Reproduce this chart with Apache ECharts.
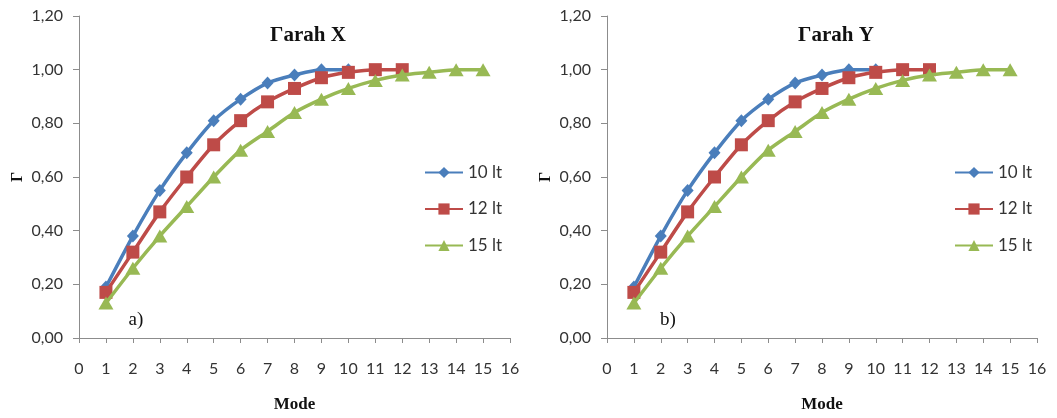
<!DOCTYPE html>
<html>
<head>
<meta charset="utf-8">
<script src="https://cdn.jsdelivr.net/npm/echarts@6/dist/echarts.min.js"></script>
<style>
  html, body { margin: 0; padding: 0; background: #ffffff; }
  #chart { width: 1057px; height: 418px; }
</style>
</head>
<body>
<div id="chart"></div>
<script>
// Mode numbers (x values)
const modes = [1, 2, 3, 4, 5, 6, 7, 8, 9, 10, 11, 12, 13, 14, 15];
const seriesNames = ['10 lt', '12 lt', '15 lt'];
const panelTitles = ['Γarah X', 'Γarah Y'];
const panelTags = ['a)', 'b)'];

// Γ values, direction X
const gammaX10 = [0.19, 0.38, 0.55, 0.69, 0.81, 0.89, 0.95, 0.98, 1.00, 1.00];
const gammaX12 = [0.17, 0.32, 0.47, 0.60, 0.72, 0.81, 0.88, 0.93, 0.97, 0.99, 1.00, 1.00];
const gammaX15 = [0.13, 0.26, 0.38, 0.49, 0.60, 0.70, 0.77, 0.84, 0.89, 0.93, 0.96, 0.98, 0.99, 1.00, 1.00];

// Γ values, direction Y
const gammaY10 = [0.19, 0.38, 0.55, 0.69, 0.81, 0.89, 0.95, 0.98, 1.00, 1.00];
const gammaY12 = [0.17, 0.32, 0.47, 0.60, 0.72, 0.81, 0.88, 0.93, 0.97, 0.99, 1.00, 1.00];
const gammaY15 = [0.13, 0.26, 0.38, 0.49, 0.60, 0.70, 0.77, 0.84, 0.89, 0.93, 0.96, 0.98, 0.99, 1.00, 1.00];

const colors = ['#4A7EBB', '#BE4B48', '#98B954'];
const symbols = ['diamond', 'rect', 'triangle'];
const symbolSizes = [[12, 13], 13, [15, 13]];

const axisGray = '#8c8c8c';
const labelFont = 'Lato, "Open Sans", sans-serif';
const serifFont = '"Liberation Serif", "DejaVu Serif", serif';

const pairs = (vals) => vals.map((v, i) => [modes[i], v]);

const panels = [
  { left: 79, width: 431, sets: [gammaX10, gammaX12, gammaX15] },
  { left: 607, width: 430, sets: [gammaY10, gammaY12, gammaY15] }
];

const grids = panels.map(p => ({ left: p.left, top: 16, width: p.width, height: 326 }));

const xAxes = panels.map((p, i) => ({
  type: 'value', gridIndex: i, min: 0, max: 16, interval: 1,
  name: 'Mode', nameLocation: 'middle', nameGap: 58,
  nameTextStyle: { fontFamily: serifFont, fontWeight: 'bold', fontSize: 17, color: '#111' },
  axisLine: { show: true, lineStyle: { color: axisGray, width: 1 } },
  axisTick: { show: true, inside: false, length: 5, lineStyle: { color: axisGray } },
  axisLabel: { margin: 23, fontFamily: labelFont, fontSize: 16, color: '#333' },
  splitLine: { show: false }
}));

const yAxes = panels.map((p, i) => ({
  type: 'value', gridIndex: i, min: 0, max: 1.2, interval: 0.2,
  name: 'Γ', nameLocation: 'middle', nameGap: 53, nameRotate: 90,
  nameTextStyle: { fontFamily: serifFont, fontWeight: 'bold', fontSize: 16, color: '#111' },
  axisLine: { show: true, lineStyle: { color: axisGray, width: 1 } },
  axisTick: { show: true, inside: false, length: 6, lineStyle: { color: axisGray } },
  axisLabel: {
    margin: 16, fontFamily: labelFont, fontSize: 16, color: '#333',
    formatter: v => v.toFixed(2).replace('.', ',')
  },
  splitLine: { show: false }
}));

const series = [];
panels.forEach((p, gi) => {
  p.sets.forEach((vals, si) => {
    series.push({
      type: 'line', name: seriesNames[si],
      xAxisIndex: gi, yAxisIndex: gi,
      data: pairs(vals),
      smooth: 0.25,
      symbol: symbols[si], symbolSize: symbolSizes[si],
      lineStyle: { color: colors[si], width: 3.5 },
      itemStyle: { color: colors[si] },
      z: 2 + si
    });
  });
});

const legends = [419, 949].map(x => ({
  data: seriesNames, orient: 'vertical', left: x, top: 159,
  itemWidth: 38, itemHeight: 14, itemGap: 19.5,
  textStyle: { fontFamily: labelFont, fontSize: 17, color: '#333', lineHeight: 14 }
}));

const graphics = [];
[[308, 36], [836, 36]].forEach((pos, i) => {
  graphics.push({
    type: 'text', x: pos[0], y: pos[1],
    style: { text: panelTitles[i], font: 'bold 21px ' + serifFont, fill: '#111', align: 'center', verticalAlign: 'middle' }
  });
});
[[136, 320], [668, 320]].forEach((pos, i) => {
  graphics.push({
    type: 'text', x: pos[0], y: pos[1],
    style: { text: panelTags[i], font: '19px ' + serifFont, fill: '#111', align: 'center', verticalAlign: 'middle' }
  });
});

const chart = echarts.init(document.getElementById('chart'), null, { renderer: 'canvas' });
chart.setOption({
  backgroundColor: '#ffffff',
  animation: false,
  grid: grids,
  xAxis: xAxes,
  yAxis: yAxes,
  legend: legends,
  series: series,
  graphic: graphics
});
</script>
</body>
</html>
